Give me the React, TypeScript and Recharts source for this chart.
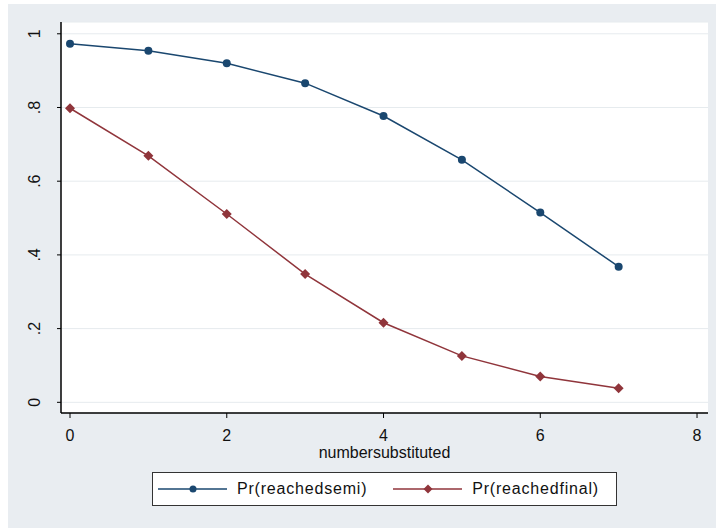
import React from 'react';
import { LineChart, Line, XAxis, YAxis, CartesianGrid, Legend, Label } from 'recharts';

// values
const substituted = [0, 1, 2, 3, 4, 5, 6, 7];
const reachedSemi = [0.973, 0.954, 0.92, 0.866, 0.777, 0.658, 0.515, 0.368];
const reachedFinal = [0.798, 0.669, 0.511, 0.348, 0.216, 0.126, 0.07, 0.038];
const seriesNames = ['Pr(reachedsemi)', 'Pr(reachedfinal)'];
const xTicks = [0, 2, 4, 6, 8];
const yTicks = [0, 0.2, 0.4, 0.6, 0.8, 1];

const NAVY = '#1a476f';
const MAROON = '#90353b';
const FONT = '"Liberation Sans", Arial, sans-serif';

const data = substituted.map((x, i) => ({ x, semi: reachedSemi[i], final: reachedFinal[i] }));

// Stata style: ".8" instead of "0.8"
const fmtY = (v: number) => String(v).replace(/^0\./, '.');

const YTick = (props: any) => {
  const { y, payload } = props;
  return (
    <text x={40} y={y} transform={`rotate(-90, 40, ${y})`} textAnchor="middle"
      fontSize={16} fontFamily={FONT} fill="#111">
      {fmtY(payload.value)}
    </text>
  );
};

const XTick = (props: any) => {
  const { x, y, payload } = props;
  return (
    <text x={x} y={y + 21} textAnchor="middle" fontSize={16} fontFamily={FONT} fill="#111">
      {payload.value}
    </text>
  );
};

const CircleDot = (props: any) => (
  <circle key={`c-${props.index}`} cx={props.cx} cy={props.cy} r={4} fill={NAVY} />
);

const DiamondDot = (props: any) => {
  const { cx, cy } = props;
  const s = 5;
  return (
    <path key={`d-${props.index}`} d={`M${cx},${cy - s}L${cx + s},${cy}L${cx},${cy + s}L${cx - s},${cy}Z`} fill={MAROON} />
  );
};

const renderLegend = (props: any) => {
  // keep the series order, recharts sorts by name otherwise
  const items = seriesNames
    .map((n) => (props.payload || []).find((p: any) => p.value === n))
    .filter(Boolean);
  return (
    <div style={{
      width: 465, height: 34, boxSizing: 'border-box', border: '1px solid #333',
      background: '#fff', display: 'flex', alignItems: 'center',
      fontFamily: FONT, fontSize: 16, color: '#111', letterSpacing: 0.8,
    }}>
      {items.map((entry: any, i: number) => (
        <div key={entry.value} style={{ display: 'flex', alignItems: 'center', marginLeft: i === 0 ? 5 : 26 }}>
          <svg width={69} height={10}>
            <line x1={0} y1={5} x2={69} y2={5} stroke={entry.color} strokeWidth={1.5} />
            {i === 0
              ? <circle cx={35} cy={5} r={3.5} fill={entry.color} />
              : <path d="M35,0.5L39.5,5L35,9.5L30.5,5Z" fill={entry.color} />}
          </svg>
          <span style={{ marginLeft: 10 }}>{entry.value}</span>
        </div>
      ))}
    </div>
  );
};

export default function App() {
  return (
    <div style={{ position: 'absolute', left: 0, top: 0, width: 716, height: 530, background: '#fff' }}>
      <div style={{ position: 'absolute', left: 8, top: 4, right: 0, bottom: 2, background: '#e9edf1' }} />
      <div style={{ position: 'absolute', left: 0, top: 0 }}>
        <LineChart width={716} height={530} data={data} margin={{ top: 22, right: 8, left: 0, bottom: 67 }}>
          <CartesianGrid vertical={false} fill="#fff" stroke="#e6ebee" strokeWidth={1} />
          <XAxis dataKey="x" type="number" domain={[-0.115, 8.14]} ticks={xTicks} allowDataOverflow
            height={50} tickSize={5} tickMargin={2} tick={<XTick />}
            axisLine={{ stroke: '#000', strokeWidth: 1.5 }} tickLine={{ stroke: '#000' }}>
            <Label value="numbersubstituted" position="insideBottom" offset={5}
              fontSize={16} fontFamily={FONT} fill="#111" />
          </XAxis>
          <YAxis type="number" domain={[-0.029, 1.032]} ticks={yTicks} allowDataOverflow
            width={61} tickSize={4} tick={<YTick />}
            axisLine={{ stroke: '#000', strokeWidth: 1.5 }} tickLine={{ stroke: '#000' }} />
          <Legend layout="vertical" align="center" verticalAlign="middle" content={renderLegend}
            wrapperStyle={{ left: 152, top: 472, width: 465, height: 34 }} />
          <Line type="linear" dataKey="semi" name={seriesNames[0]} stroke={NAVY} strokeWidth={1.5}
            dot={CircleDot} activeDot={false} isAnimationActive={false} />
          <Line type="linear" dataKey="final" name={seriesNames[1]} stroke={MAROON} strokeWidth={1.5}
            dot={DiamondDot} activeDot={false} isAnimationActive={false} />
        </LineChart>
      </div>
    </div>
  );
}
